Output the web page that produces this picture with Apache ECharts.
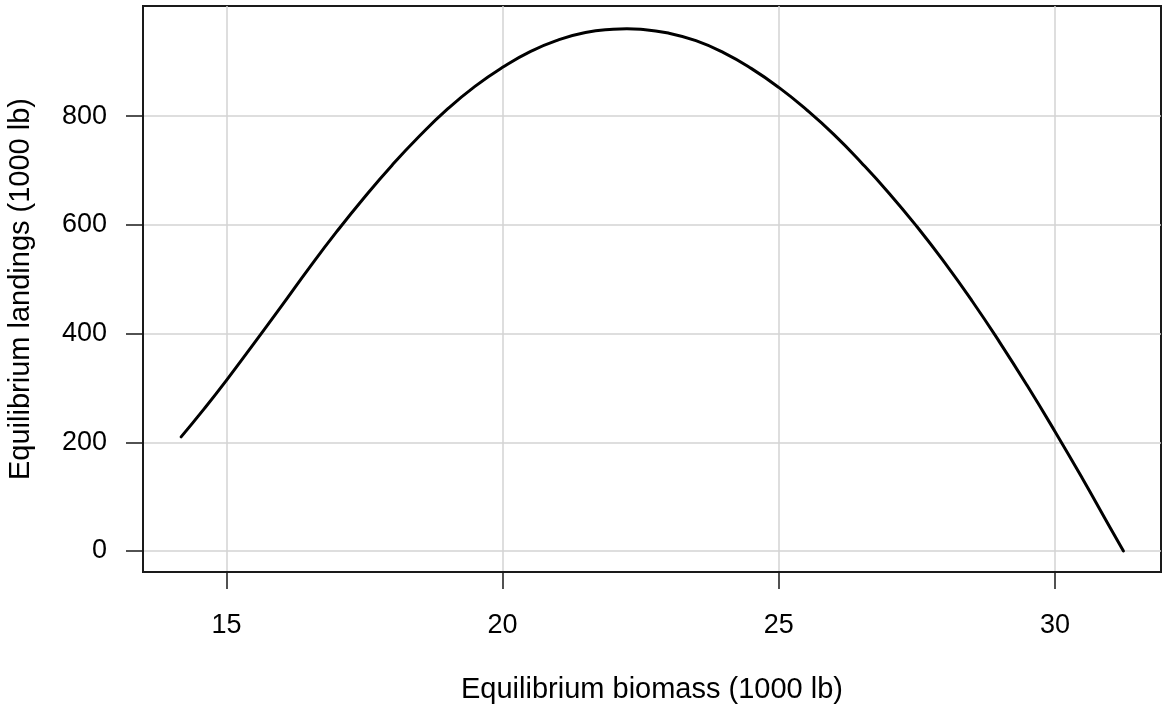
<!DOCTYPE html>
<html>
<head>
<meta charset="utf-8">
<script src="https://cdn.jsdelivr.net/npm/echarts@6/dist/echarts.min.js"></script>
<style>
html,body{margin:0;padding:0;background:#fff;}
#chart{width:1162px;height:715px;}
</style>
</head>
<body>
<div id="chart"></div>
<script>
// Equilibrium biomass (1000 lb)
const biomass = [14.18, 14.6, 15.0, 15.5, 16.0, 16.5, 17.0, 17.5, 18.0, 18.5, 19.0, 19.5, 20.0, 20.5, 21.0, 21.5, 22.0, 22.25, 22.5, 23.0, 23.5, 24.0, 24.5, 25.0, 25.5, 26.0, 26.5, 27.0, 27.5, 28.0, 28.5, 29.0, 29.5, 30.0, 30.5, 31.0, 31.24];
// Equilibrium landings (1000 lb)
const landings = [210, 262, 314, 382, 451, 521, 588, 651, 710, 764, 813, 855, 890, 919, 940, 954, 960, 961, 960, 953, 939, 917, 888, 853, 812, 766, 714, 658, 597, 531, 460, 384, 304, 220, 133, 43, 0];
const xTicks = [15, 20, 25, 30];
const yTicks = [0, 200, 400, 600, 800];
const xTitle = 'Equilibrium biomass (1000 lb)';
const yTitle = 'Equilibrium landings (1000 lb)';

const points = biomass.map((b, i) => [b, landings[i]]);
const FONT = 'Liberation Sans';
const FS = 27;
const FS_T = 29;

const chart = echarts.init(document.getElementById('chart'), null, {renderer: 'canvas'});
chart.setOption({
  animation: false,
  backgroundColor: '#ffffff',
  grid: {left: 143, right: 1, top: 6, bottom: 143, show: true, borderColor: '#1a1a1a', borderWidth: 2, backgroundColor: 'transparent', containLabel: false, outerBoundsMode: 'none'},
  xAxis: {
    type: 'value', min: 13.49, max: 31.92,
    name: xTitle, nameLocation: 'middle', nameGap: 103, nameMoveOverlap: false,
    nameTextStyle: {fontFamily: FONT, fontSize: FS_T, color: '#000'},
    axisLine: {show: true, onZero: false, lineStyle: {color: '#1a1a1a', width: 2}},
    axisTick: {show: true, length: 17, inside: false, customValues: xTicks, lineStyle: {color: '#1a1a1a', width: 1.5}},
    axisLabel: {customValues: xTicks, margin: 40, fontFamily: FONT, fontSize: FS, color: '#000'},
    splitLine: {show: true, lineStyle: {color: '#d3d3d3', width: 1.5}}
  },
  yAxis: {
    type: 'value', min: -38.6, max: 1002.8,
    name: yTitle, nameLocation: 'middle', nameGap: 108, nameRotate: 90, nameMoveOverlap: false,
    nameTextStyle: {fontFamily: FONT, fontSize: FS_T, color: '#000'},
    axisLine: {show: true, onZero: false, lineStyle: {color: '#1a1a1a', width: 2}},
    axisTick: {show: true, length: 17, inside: false, customValues: yTicks, lineStyle: {color: '#1a1a1a', width: 1.5}},
    axisLabel: {customValues: yTicks, margin: 36, fontFamily: FONT, fontSize: FS, color: '#000'},
    splitLine: {show: true, lineStyle: {color: '#d3d3d3', width: 1.5}}
  },
  series: [{
    type: 'line', data: points, showSymbol: false, symbol: 'none', smooth: 0.5,
    lineStyle: {color: '#000', width: 3, cap: 'round', join: 'round'},
    z: 5
  }]
});
</script>
</body>
</html>
